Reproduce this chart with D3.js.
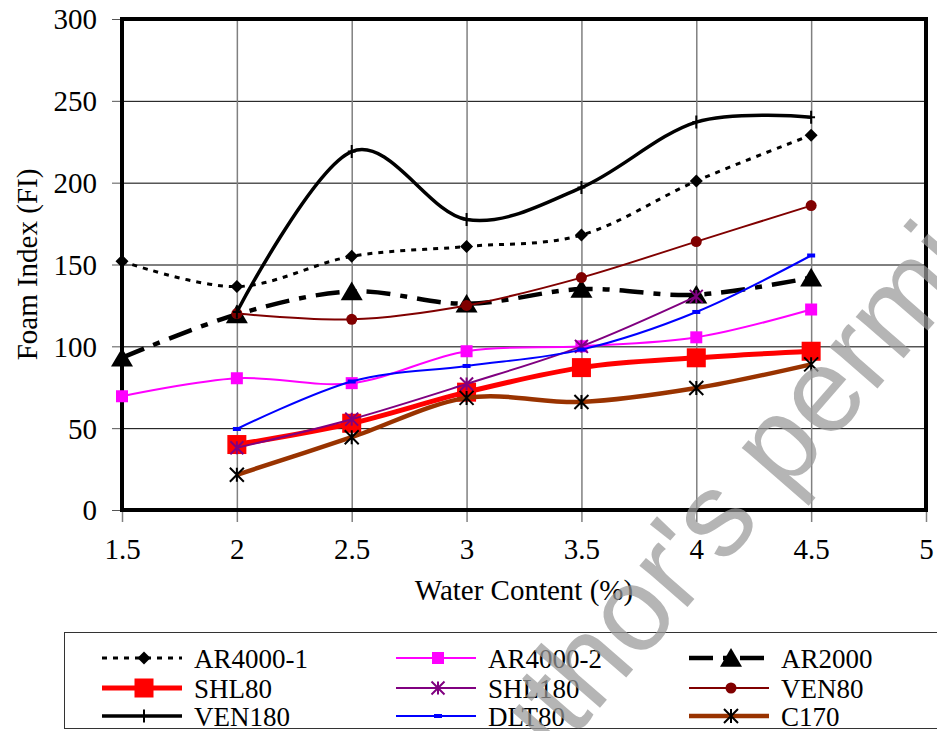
<!DOCTYPE html>
<html><head><meta charset="utf-8">
<script src="https://cdn.jsdelivr.net/npm/d3@7"></script>
<style>
body{margin:0;background:#fff;}
svg text.t{font-family:"Liberation Serif","Tinos","Times New Roman","DejaVu Serif","Noto Serif",serif;fill:#000;}
</style>
</head><body>
<svg id="chart" width="937" height="731"></svg>
<script>
// ---------- DATA ----------
const waterContent = [1.5, 2, 2.5, 3, 3.5, 4, 4.5];
const xTickValues = [1.5, 2, 2.5, 3, 3.5, 4, 4.5, 5];
const yTickValues = [0, 50, 100, 150, 200, 250, 300];
const seriesNames = ["AR4000-1","AR4000-2","AR2000","SHL80","SHL180","VEN80","VEN180","DLT80","C170"];
const ar4000_1 = [152, 136.5, 155, 161, 168, 201, 229];
const ar4000_2 = [69.5, 80.5, 77.5, 97, 100, 105.5, 122.5];
const ar2000   = [93, 119.5, 133.5, 126, 135, 131.5, 142];
const shl80    = [null, 40, 53, 72, 87, 93, 97];
const shl180   = [null, 38, 55.5, 77, 100, 130.5, null];
const ven80    = [null, 120, 116.5, 125, 142, 164, 186];
const ven180   = [null, 121, 219, 177.5, 197, 237, 240];
const dlt80    = [null, 49.5, 78.5, 88, 98, 121, 155.5];
const c170     = [null, 21.5, 44.5, 68.5, 66, 74.5, 89];
const seriesValues = [ar4000_1, ar4000_2, ar2000, shl80, shl180, ven80, ven180, dlt80, c170];

// ---------- STYLES ----------
const styles = [
  {color:"#000000", width:3,   dash:"5,6",       marker:"diamond",  size:13, mFill:"#000000", mStroke:null},
  {color:"#FF00FF", width:2,   dash:null,        marker:"square",   size:12, mFill:"#FF00FF", mStroke:null},
  {color:"#000000", width:4.5, dash:"24,10,7,10",marker:"triangle", size:22, mFill:"#000000", mStroke:null},
  {color:"#FF0000", width:5,   dash:null,        marker:"square",   size:19, mFill:"#FF0000", mStroke:null},
  {color:"#800080", width:2,   dash:null,        marker:"star",     size:13, mFill:"none",    mStroke:"#800080"},
  {color:"#800000", width:2,   dash:null,        marker:"circle",   size:11, mFill:"#800000", mStroke:null},
  {color:"#000000", width:3.5, dash:null,        marker:"plus",     size:13, mFill:"none",    mStroke:"#000000"},
  {color:"#0000FF", width:2,   dash:null,        marker:"dash",     size:8,  mFill:"#0000FF", mStroke:null},
  {color:"#993300", width:4.5, dash:null,        marker:"star",     size:14, mFill:"none",    mStroke:"#000000"}
];

const svg = d3.select("#chart");
const L = 122, R = 926, T = 19, B = 510;
const x = d3.scaleLinear().domain([1.5, 5]).range([L, R]);
const y = d3.scaleLinear().domain([0, 300]).range([B, T]);

// gridlines
const gGrid = svg.append("g");
gGrid.append("g").attr("transform", `translate(${L},0)`)
  .call(d3.axisLeft(y).tickValues(yTickValues.filter(v => v > 0 && v < 300)).tickSize(-(R - L)).tickFormat(""))
  .call(g => g.select(".domain").remove())
  .call(g => g.selectAll("line").attr("stroke", "#000").attr("stroke-width", 1));
gGrid.append("g").attr("transform", `translate(0,${B})`)
  .call(d3.axisBottom(x).tickValues(xTickValues.filter(v => v > 1.5 && v < 5)).tickSize(-(B - T)).tickFormat(""))
  .call(g => g.select(".domain").remove())
  .call(g => g.selectAll("line").attr("stroke", "#808080").attr("stroke-width", 1.5));

// outer ticks + labels
const yAxis = svg.append("g").attr("transform", `translate(${L},0)`)
  .call(d3.axisLeft(y).tickValues(yTickValues).tickSize(10).tickPadding(15))
  .call(g => g.select(".domain").remove());
yAxis.selectAll("line").attr("stroke", "#555").attr("stroke-width", 1);
yAxis.selectAll("text").attr("class", "t").attr("font-size", 29).attr("dy", "0.34em");

const xAxis = svg.append("g").attr("transform", `translate(0,${B})`)
  .call(d3.axisBottom(x).tickValues(xTickValues).tickSize(12).tickPadding(16).tickFormat(d3.format("")))
  .call(g => g.select(".domain").remove());
xAxis.selectAll("line").attr("stroke", "#808080").attr("stroke-width", 1.5);
xAxis.selectAll("text").attr("class", "t").attr("font-size", 29).attr("dy", "0.71em");

// frame
svg.append("rect").attr("x", L).attr("y", T).attr("width", R - L).attr("height", B - T)
  .attr("fill", "none").attr("stroke", "#000").attr("stroke-width", 4);

// titles
svg.append("text").attr("class", "t").attr("x", (L + R) / 2).attr("y", 600).attr("text-anchor", "middle")
  .attr("font-size", 29).text("Water Content (%)");
svg.append("text").attr("class", "t").attr("transform", `translate(37,${(T + B) / 2}) rotate(-90)`).attr("text-anchor", "middle")
  .attr("font-size", 29).text("Foam Index (FI)");

// markers
function drawMarker(g, type, s, st) {
  const h = s / 2;
  if (type === "circle") {
    g.append("circle").attr("r", h).attr("fill", st.mFill);
  } else if (type === "diamond") {
    g.append("path").attr("d", `M0,${-h}L${h},0L0,${h}L${-h},0Z`).attr("fill", st.mFill);
  } else if (type === "square") {
    g.append("rect").attr("x", -h).attr("y", -h).attr("width", s).attr("height", s).attr("fill", st.mFill);
  } else if (type === "triangle") {
    g.append("path").attr("d", `M0,${-h*0.9}L${h},${h*0.8}L${-h},${h*0.8}Z`).attr("fill", st.mFill);
  } else if (type === "plus") {
    g.append("path").attr("d", `M${-h*0.6},0H${h*0.6}M0,${-h}V${h}`).attr("stroke", st.mStroke).attr("stroke-width", 2).attr("fill", "none");
  } else if (type === "star") {
    g.append("path").attr("d", `M${-h},${-h}L${h},${h}M${-h},${h}L${h},${-h}M0,${-h}V${h}`).attr("stroke", st.mStroke).attr("stroke-width", 2).attr("fill", "none");
  } else if (type === "dash") {
    g.append("rect").attr("x", -h).attr("y", -2).attr("width", s).attr("height", 4).attr("fill", st.mFill);
  }
}

const line = d3.line().defined(d => d[1] != null)
  .x(d => x(d[0])).y(d => y(d[1])).curve(d3.curveCardinal.tension(0));

const gSeries = svg.append("g");
seriesValues.forEach((vals, i) => {
  const st = styles[i];
  const pts = waterContent.map((w, j) => [w, vals[j]]).filter(d => d[1] != null);
  const g = gSeries.append("g");
  g.append("path").datum(pts).attr("d", line).attr("fill", "none")
    .attr("stroke", st.color).attr("stroke-width", st.width)
    .attr("stroke-dasharray", st.dash).attr("stroke-linejoin", "round");
  pts.forEach(p => {
    const m = g.append("g").attr("transform", `translate(${x(p[0])},${y(p[1])})`);
    drawMarker(m, st.marker, st.size, st);
  });
});

// legend
const lg = svg.append("g");
lg.append("rect").attr("x", 64.5).attr("y", 632.5).attr("width", 900).attr("height", 96)
  .attr("fill", "#fff").attr("stroke", "#333").attr("stroke-width", 1);
const colX = [102, 396, 689];
const rowY = [658, 688, 716];
seriesNames.forEach((name, i) => {
  const st = styles[i];
  const cx = colX[i % 3], cy = rowY[Math.floor(i / 3)];
  lg.append("line").attr("x1", cx).attr("x2", cx + 80).attr("y1", cy).attr("y2", cy)
    .attr("stroke", st.color).attr("stroke-width", st.width).attr("stroke-dasharray", st.dash);
  const m = lg.append("g").attr("transform", `translate(${cx + 42},${cy})`);
  drawMarker(m, st.marker, st.size, st);
  lg.append("text").attr("class", "t").attr("x", cx + 92).attr("y", cy + 9.5).attr("font-size", 27).text(name);
});

// watermark
svg.append("text").attr("transform", "translate(485,840) rotate(-49)")
  .style("font-family", "'Liberation Sans', Arimo, Arial, 'DejaVu Sans', sans-serif")
  .attr("font-size", 120)
  .style("fill", "#999").attr("fill-opacity", 0.72).text("author's permission");
</script>
</body></html>
